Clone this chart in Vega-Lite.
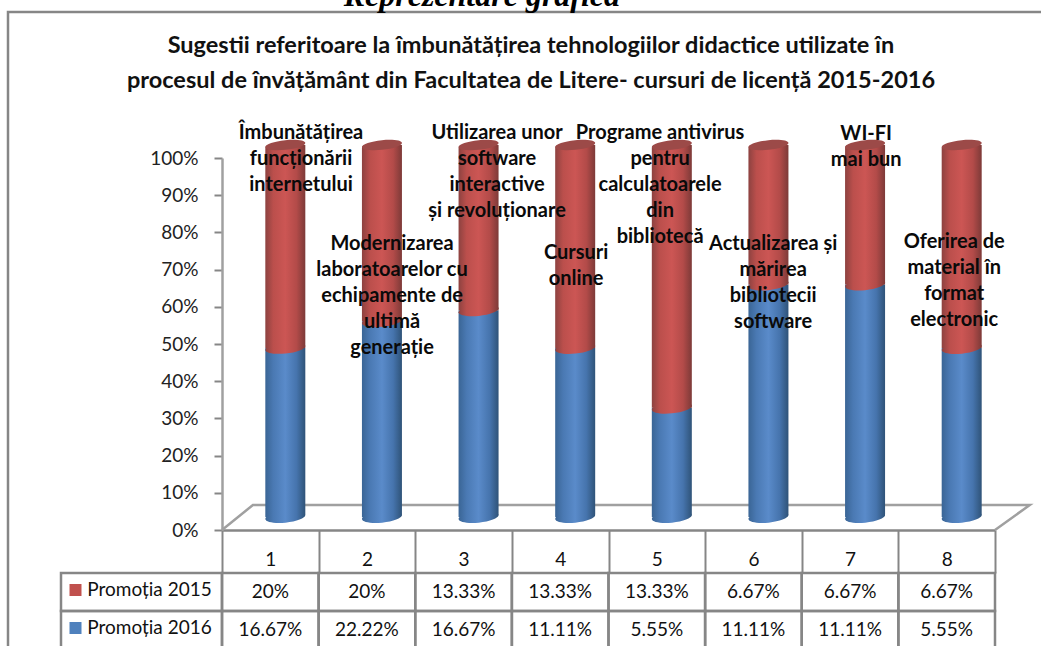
{
"$schema":"https://vega.github.io/schema/vega-lite/v6.json",
"width":1040,"height":640,
"autosize":{"type":"none"},
"padding":{"left":8,"top":12,"right":-7,"bottom":-6},
"background":"white",
"view":{"stroke":"#868686","strokeWidth":2.5,"fill":null},
"title":{"text":["Sugestii referitoare la îmbunătățirea tehnologiilor didactice utilizate în","procesul de învățământ din Facultatea de Litere- cursuri de licență 2015-2016"],
"anchor":"middle","frame":"group","offset":-112,"dx":3,"font":"Lato","fontWeight":"bold","fontSize":23.5,"color":"#111","lineHeight":35},
"datasets":{
"rows":[
{"cat":"1","series":"Promoția 2015","value":20,"shown":"20%"},{"cat":"1","series":"Promoția 2016","value":16.67,"shown":"16.67%"},
{"cat":"2","series":"Promoția 2015","value":20,"shown":"20%"},{"cat":"2","series":"Promoția 2016","value":22.22,"shown":"22.22%"},
{"cat":"3","series":"Promoția 2015","value":13.33,"shown":"13.33%"},{"cat":"3","series":"Promoția 2016","value":16.67,"shown":"16.67%"},
{"cat":"4","series":"Promoția 2015","value":13.33,"shown":"13.33%"},{"cat":"4","series":"Promoția 2016","value":11.11,"shown":"11.11%"},
{"cat":"5","series":"Promoția 2015","value":13.33,"shown":"13.33%"},{"cat":"5","series":"Promoția 2016","value":5.55,"shown":"5.55%"},
{"cat":"6","series":"Promoția 2015","value":6.67,"shown":"6.67%"},{"cat":"6","series":"Promoția 2016","value":11.11,"shown":"11.11%"},
{"cat":"7","series":"Promoția 2015","value":6.67,"shown":"6.67%"},{"cat":"7","series":"Promoția 2016","value":11.11,"shown":"11.11%"},
{"cat":"8","series":"Promoția 2015","value":6.67,"shown":"6.67%"},{"cat":"8","series":"Promoția 2016","value":5.55,"shown":"5.55%"}
],
"notes":[
{"pos":1.318,"level":1.094,"note":"Îmbunătățirea|funcționării|internetului"},
{"pos":2.26,"level":0.796,"note":"Modernizarea|laboratoarelor cu|echipamente de|ultimă|generație"},
{"pos":3.347,"level":1.094,"note":"Utilizarea unor|software|interactive|și revoluționare"},
{"pos":4.165,"level":0.772,"note":"Cursuri|online"},
{"pos":5.034,"level":1.094,"note":"Programe antivirus|pentru|calculatoarele|din|bibliotecă"},
{"pos":6.204,"level":0.796,"note":"Actualizarea și|mărirea|bibliotecii|software"},
{"pos":7.167,"level":1.091,"note":"WI-FI|mai bun"},
{"pos":8.078,"level":0.801,"note":"Oferirea de|material în|format|electronic"}
],
"heading":[{"pos":3.19,"level":1.4086,"words":"Reprezentare grafică"}],
"floor":[{"along":0,"depth":0,"step":1},{"along":0.04,"depth":1,"step":2},{"along":1.045,"depth":1,"step":3},{"along":1,"depth":0,"step":4}],
"heads":[{"head":"Promoția 2015"},{"head":"Promoția 2016"}]
},
"resolve":{"scale":{"x":"independent","y":"independent"},"axis":{"x":"independent","y":"independent"}},
"layer":[
{"data":{"name":"rows"},"mark":{"type":"tick","opacity":0},
"encoding":{
"x":{"field":"cat","type":"nominal","scale":{"type":"band","paddingInner":0,"paddingOuter":0,"range":[214,987]},
"axis":{"orient":"bottom","offset":-122,"title":null,"labelAngle":0,"tickBand":"extent","tickSize":43,"tickColor":"#868686","tickWidth":2,"domainColor":"#868686","domainWidth":2.5,"labelFont":"Lato","labelFontSize":19,"labelColor":"#111","labelPadding":-23,"grid":false}},
"y":{"datum":0,"type":"quantitative","scale":{"domain":[0,1],"range":[518,146]},
"axis":{"orient":"left","offset":-214,"title":null,"values":[0,0.1,0.2,0.3,0.4,0.5,0.6,0.7,0.8,0.9,1],"format":".0%","tickSize":8,"tickColor":"#868686","tickWidth":2,"domainColor":"#a0a0a0","domainWidth":2.5,"labelFont":"Lato","labelFontSize":19,"labelColor":"#222","labelPadding":16,"grid":false}}
}},
{"data":{"name":"heading"},"mark":{"type":"text","font":"Liberation Serif","fontStyle":"italic","fontWeight":"bold","fontSize":32,"color":"#000","baseline":"alphabetic"},
"encoding":{"x":{"field":"pos","type":"quantitative","scale":{"domain":[0.5,8.5],"range":[214,987]},"axis":null},
"y":{"field":"level","type":"quantitative","scale":{"domain":[0,1],"range":[518,146]},"axis":null},
"text":{"field":"words"}}},
{"data":{"name":"floor"},"mark":{"type":"line","color":"#a0a0a0","strokeWidth":2.5,"clip":false},
"encoding":{"x":{"field":"along","type":"quantitative","scale":{"domain":[0,1],"range":[214,987]},"axis":null},
"y":{"field":"depth","type":"quantitative","scale":{"domain":[0,1],"range":[518,493]},"axis":null},
"order":{"field":"step"}}},
{"data":{"name":"rows"},
"transform":[{"stack":"value","groupby":["cat"],"offset":"normalize","sort":[{"field":"series","order":"descending"}],"as":["low","high"]},{"filter":"datum.series==='Promoția 2016'"}],
"layer":[
{"mark":{"type":"bar","width":40,"xOffset":15,"yOffset":-13,"y2Offset":-13,"cornerRadiusBottomRight":3,"color":{"gradient":"linear","x1":0,"x2":1,"y1":0,"y2":0,"stops":[{"offset":0,"color":"#3a6595"},{"offset":0.2,"color":"#4a79b3"},{"offset":0.5,"color":"#5a8bca"},{"offset":0.78,"color":"#4674ad"},{"offset":1,"color":"#2f5378"}]}},
"encoding":{"x":{"field":"cat","type":"nominal","scale":{"type":"band","paddingInner":0,"paddingOuter":0,"range":[214,987]},"axis":null},
"y":{"field":"low","type":"quantitative","scale":{"domain":[0,1],"range":[518,146]},"axis":null},"y2":{"field":"high"}}},
{"mark":{"type":"point","filled":true,"opacity":1,"size":1600,"xOffset":15,"yOffset":-13,"shape":"M-1,0.1A1,0.28,-6,0,0,1,-0.1A1,0.28,-6,0,0,-1,0.1Z","color":{"gradient":"linear","x1":0,"x2":1,"y1":0,"y2":0,"stops":[{"offset":0,"color":"#3a6595"},{"offset":0.2,"color":"#4a79b3"},{"offset":0.5,"color":"#5a8bca"},{"offset":0.78,"color":"#4674ad"},{"offset":1,"color":"#2f5378"}]}},
"encoding":{"x":{"field":"cat","type":"nominal","scale":{"type":"band","paddingInner":0,"paddingOuter":0,"range":[214,987]},"axis":null},
"y":{"field":"low","type":"quantitative","scale":{"domain":[0,1],"range":[518,146]},"axis":null}}}
]},
{"data":{"name":"rows"},
"transform":[{"stack":"value","groupby":["cat"],"offset":"normalize","sort":[{"field":"series","order":"descending"}],"as":["low","high"]},{"filter":"datum.series==='Promoția 2015'"}],
"layer":[
{"mark":{"type":"bar","width":40,"xOffset":15,"yOffset":-13,"y2Offset":-13,"cornerRadiusTopLeft":3,"color":{"gradient":"linear","x1":0,"x2":1,"y1":0,"y2":0,"stops":[{"offset":0,"color":"#8d4240"},{"offset":0.2,"color":"#bb4f4c"},{"offset":0.5,"color":"#cc5654"},{"offset":0.78,"color":"#b34b49"},{"offset":1,"color":"#7d3a38"}]}},
"encoding":{"x":{"field":"cat","type":"nominal","scale":{"type":"band","paddingInner":0,"paddingOuter":0,"range":[214,987]},"axis":null},
"y":{"field":"low","type":"quantitative","scale":{"domain":[0,1],"range":[518,146]},"axis":null},"y2":{"field":"high"}}},
{"mark":{"type":"point","filled":true,"opacity":1,"size":1600,"xOffset":15,"yOffset":-13,"shape":"M-1,0.1A1,0.28,-6,0,0,1,-0.1A1,0.28,-6,0,0,-1,0.1Z","color":{"gradient":"linear","x1":0,"x2":1,"y1":0,"y2":0,"stops":[{"offset":0,"color":"#8d4240"},{"offset":0.2,"color":"#bb4f4c"},{"offset":0.5,"color":"#cc5654"},{"offset":0.78,"color":"#b34b49"},{"offset":1,"color":"#7d3a38"}]}},
"encoding":{"x":{"field":"cat","type":"nominal","scale":{"type":"band","paddingInner":0,"paddingOuter":0,"range":[214,987]},"axis":null},
"y":{"field":"low","type":"quantitative","scale":{"domain":[0,1],"range":[518,146]},"axis":null}}},
{"mark":{"type":"point","filled":true,"opacity":1,"size":1600,"xOffset":15,"yOffset":-13,"shape":"M-1,0.1A1,0.24,-6,1,1,1,-0.1A1,0.24,-6,1,1,-1,0.1Z","color":"#9c4a48"},
"encoding":{"x":{"field":"cat","type":"nominal","scale":{"type":"band","paddingInner":0,"paddingOuter":0,"range":[214,987]},"axis":null},
"y":{"field":"high","type":"quantitative","scale":{"domain":[0,1],"range":[518,146]},"axis":null}}}
]},
{"data":{"name":"notes"},"mark":{"type":"text","font":"Lato","fontWeight":"bold","fontSize":20,"lineHeight":26,"lineBreak":"|","baseline":"top","align":"center","color":"#0a0a0a"},
"encoding":{"x":{"field":"pos","type":"quantitative","scale":{"domain":[0.5,8.5],"range":[214,987]},"axis":null},
"y":{"field":"level","type":"quantitative","scale":{"domain":[0,1],"range":[518,146]},"axis":null},
"text":{"field":"note"}}},
{"data":{"name":"rows"},"mark":{"type":"rect","fill":null,"filled":false,"stroke":"#868686","strokeWidth":2.5},
"encoding":{"x":{"field":"cat","type":"nominal","scale":{"type":"band","paddingInner":0,"paddingOuter":0,"range":[214,987]},"axis":null},
"y":{"field":"series","type":"nominal","scale":{"type":"band","paddingInner":0,"paddingOuter":0,"domain":["Promoția 2015","Promoția 2016"],"range":[561,637]},"axis":null}}},
{"data":{"name":"rows"},"mark":{"type":"text","font":"Lato","fontSize":19,"color":"#111","baseline":"middle"},
"encoding":{"x":{"field":"cat","type":"nominal","scale":{"type":"band","paddingInner":0,"paddingOuter":0,"range":[214,987]},"axis":null},
"y":{"field":"series","type":"nominal","scale":{"type":"band","paddingInner":0,"paddingOuter":0,"domain":["Promoția 2015","Promoția 2016"],"range":[561,637]},"axis":null},
"text":{"field":"shown"}}},
{"data":{"name":"heads"},"layer":[
{"mark":{"type":"rect","fill":null,"filled":false,"stroke":"#868686","strokeWidth":2.5},
"encoding":{"x":{"datum":"legend","type":"nominal","scale":{"type":"band","domain":["legend"],"paddingInner":0,"paddingOuter":0,"range":[53,214]},"axis":null},
"y":{"field":"head","type":"nominal","scale":{"type":"band","paddingInner":0,"paddingOuter":0,"domain":["Promoția 2015","Promoția 2016"],"range":[561,637]},"axis":null}}},
{"mark":{"type":"text","font":"Lato","fontSize":19,"color":"#111","dx":8,"dy":-2,"baseline":"middle"},
"encoding":{"x":{"datum":"legend","type":"nominal","scale":{"type":"band","domain":["legend"],"paddingInner":0,"paddingOuter":0,"range":[53,214]},"axis":null},
"y":{"field":"head","type":"nominal","scale":{"type":"band","paddingInner":0,"paddingOuter":0,"domain":["Promoția 2015","Promoția 2016"],"range":[561,637]},"axis":null},
"text":{"field":"head"}}},
{"mark":{"type":"point","shape":"square","filled":true,"opacity":1,"size":144,"xOffset":-66,"yOffset":-2},
"encoding":{"x":{"datum":"legend","type":"nominal","scale":{"type":"band","domain":["legend"],"paddingInner":0,"paddingOuter":0,"range":[53,214]},"axis":null},
"y":{"field":"head","type":"nominal","scale":{"type":"band","paddingInner":0,"paddingOuter":0,"domain":["Promoția 2015","Promoția 2016"],"range":[561,637]},"axis":null},
"color":{"field":"head","type":"nominal","scale":{"domain":["Promoția 2015","Promoția 2016"],"range":["#c0504d","#4f81bd"]},"legend":null}}}
]}
]
}
